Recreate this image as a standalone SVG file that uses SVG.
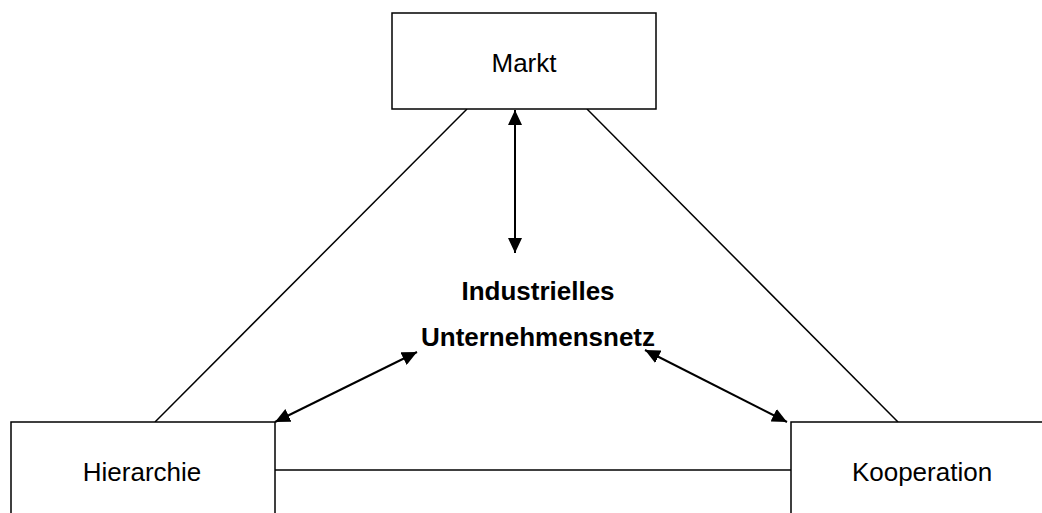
<svg xmlns="http://www.w3.org/2000/svg" width="1042" height="513" viewBox="0 0 1042 513">
  <style>
    .box { fill: #ffffff; stroke: #000000; stroke-width: 1.5; }
    .label { font-family: "Liberation Sans", Arial, sans-serif; font-size: 26px; fill: #000000; text-anchor: middle; }
    .center { font-family: "Liberation Sans", Arial, sans-serif; font-size: 26px; font-weight: bold; fill: #000000; text-anchor: middle; }
    .link { stroke: #000000; stroke-width: 1.5; fill: none; }
    .arrow { stroke: #000000; stroke-width: 2; fill: none; marker-start: url(#head); marker-end: url(#head); }
  </style>
  <defs>
    <marker id="head" viewBox="0 0 15 14" refX="15" refY="7" markerWidth="15" markerHeight="14" markerUnits="userSpaceOnUse" orient="auto-start-reverse">
      <path d="M0,0 L15,7 L0,14 z" fill="#000000"/>
    </marker>
  </defs>
  <rect width="1042" height="513" fill="#ffffff"/>

  <g id="connectors">
    <line class="link" x1="467" y1="109" x2="155" y2="422"/>
    <line class="link" x1="587" y1="109" x2="898" y2="422"/>
    <line class="link" x1="275" y1="470" x2="791" y2="470"/>
    <line class="arrow" x1="515" y1="110" x2="515" y2="253"/>
    <line class="arrow" x1="417" y1="352" x2="275" y2="422"/>
    <line class="arrow" x1="645" y1="350" x2="787" y2="422"/>
  </g>

  <g id="markt">
    <rect class="box" x="392" y="13" width="264" height="96"/>
    <text class="label" x="524" y="72">Markt</text>
  </g>

  <g id="hierarchie">
    <rect class="box" x="11" y="422" width="264" height="110"/>
    <text class="label" x="142" y="481">Hierarchie</text>
  </g>

  <g id="kooperation">
    <rect class="box" x="791" y="422" width="280" height="110"/>
    <text class="label" x="922" y="481">Kooperation</text>
  </g>

  <g id="netz">
    <text class="center" x="538" y="300">Industrielles</text>
    <text class="center" x="538" y="346">Unternehmensnetz</text>
  </g>
</svg>
